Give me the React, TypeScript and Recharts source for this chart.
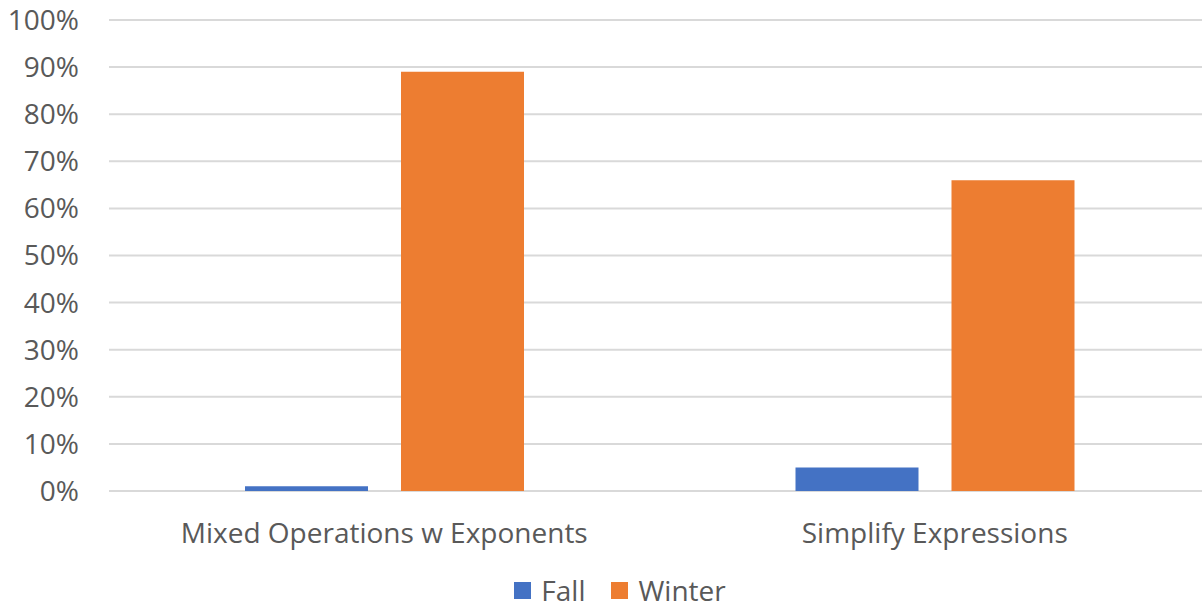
import { BarChart, Bar, XAxis, YAxis, CartesianGrid, Legend } from 'recharts';

const categories = ['Mixed Operations w Exponents', 'Simplify Expressions'];
const fallValues = [0.01, 0.05];
const winterValues = [0.89, 0.66];
const yTicks = [0, 0.1, 0.2, 0.3, 0.4, 0.5, 0.6, 0.7, 0.8, 0.9, 1];
const seriesNames = ['Fall', 'Winter'];
const seriesColors = ['#4472c4', '#ed7d31'];

const FONT = '"Open Sans", sans-serif';
const TEXT = '#595959';

const data = categories.map((name, i) => ({
    name,
    Fall: fallValues[i],
    Winter: winterValues[i],
}));

function LegendBox() {
    return (
        <div style={{ display: 'flex', justifyContent: 'center', alignItems: 'center', gap: 26, paddingTop: 5, paddingLeft: 30 }}>
            {seriesNames.map((name, i) => (
                <div key={name} style={{ display: 'flex', alignItems: 'center', gap: 10 }}>
                    <div style={{ width: 17, height: 17, background: seriesColors[i] }} />
                    <span style={{ color: TEXT, fontSize: 28, fontFamily: FONT, lineHeight: '30px' }}>{name}</span>
                </div>
            ))}
        </div>
    );
}

export default function App() {
    return (
        <div style={{ position: 'absolute', top: 0, left: 0, width: 1202, height: 610, background: '#fff', fontFamily: FONT, overflow: 'hidden' }}>
            <BarChart
                width={1210}
                height={610}
                data={data}
                margin={{ top: 20, right: 0, bottom: 0, left: 0 }}
                barGap={33}
                barCategoryGap="24.7%"
            >
                <CartesianGrid vertical={false} stroke="#d9d9d9" strokeWidth={2} />
                <XAxis
                    dataKey="name"
                    axisLine={false}
                    tickLine={false}
                    tickSize={0}
                    tickMargin={32}
                    height={79}
                    tick={{ fill: TEXT, fontSize: 28, fontFamily: FONT }}
                />
                <YAxis
                    width={109}
                    domain={[0, 1]}
                    ticks={yTicks}
                    axisLine={false}
                    tickLine={false}
                    tickSize={0}
                    tickMargin={30}
                    tickFormatter={(v: number) => `${Math.round(v * 100)}%`}
                    tick={{ fill: TEXT, fontSize: 28, fontFamily: FONT }}
                />
                <Legend height={40} content={() => <LegendBox />} wrapperStyle={{ bottom: 0 }} />
                {seriesNames.map((name, i) => (
                    <Bar key={name} dataKey={name} fill={seriesColors[i]} barSize={123} isAnimationActive={false} />
                ))}
            </BarChart>
        </div>
    );
}
